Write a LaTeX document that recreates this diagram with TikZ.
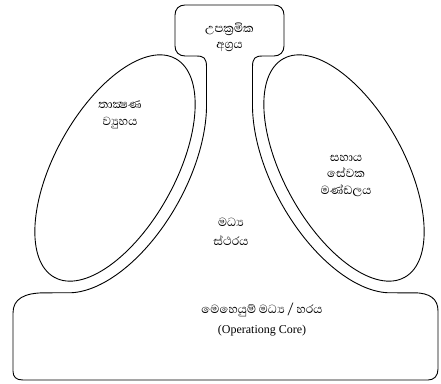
\documentclass[tikz,border=0pt]{standalone}
\usepackage{fontspec}
\setmainfont{Liberation Serif}
\newfontfamily\sinfont[Script=Sinhala]{Abhaya Libre}
\tikzset{
  shapeline/.style={draw=black, line width=0.9pt, line join=round},
  sintext/.style={font=\sinfont\fontsize{15}{16}\selectfont, align=center, inner sep=0pt},
  coretext/.style={align=center, inner sep=0pt, font=\fontsize{12}{14}\selectfont}
}
\begin{document}
\begin{tikzpicture}[x=1pt,y=1pt]
\fill[white] (0,0) rectangle (441,383);
\useasboundingbox (0,0) rectangle (441,383);
% outline: operating core + middle line + strategic apex
\draw[shapeline] (206.5,316)
  -- plot[domain=-43.5:-163.8, samples=90]
     ({115 + 137*cos(\x)*cos(61) - 72*sin(\x)*sin(61)},
      {215 + 137*cos(\x)*sin(61) + 72*sin(\x)*cos(61)})
  -- (45,90.2) .. controls (24,90.2) and (13,84) .. (13,70)
  -- (13,12) .. controls (13,6) and (16,3) .. (23,3)
  -- (428,3) .. controls (434,3) and (438,7) .. (438,14)
  -- (438,72) .. controls (438,84) and (430,90.2) .. (414,90.2)
  -- plot[domain=-163.8:-43.5, samples=90]
     ({344 - 137*cos(\x)*cos(61) + 72*sin(\x)*sin(61)},
      {215 + 137*cos(\x)*sin(61) + 72*sin(\x)*cos(61)})
  -- (252.5,316) .. controls (252.5,325) and (255,327) .. (263,327)
  -- (274,327) .. controls (280,327) and (284,331) .. (284,337)
  -- (284,368) .. controls (284,374) and (280,378) .. (274,378)
  -- (185,378) .. controls (179,378) and (175,374) .. (175,368)
  -- (175,337) .. controls (175,331) and (179,327) .. (185,327)
  -- (196,327) .. controls (204,327) and (206.5,325) .. (206.5,316) -- cycle;
% technostructure and support staff ellipses
\draw[shapeline, rotate around={61:(115,215)}] (115,215) ellipse[x radius=125, y radius=60];
\draw[shapeline, rotate around={-61:(344,215)}] (344,215) ellipse[x radius=125, y radius=60];
% labels
\node[sintext] (apex) at (229.5,346) {උපක්^^^^200dරමික\\අග්^^^^200dරය};
\node[sintext, font=\sinfont\fontsize{15}{17}\selectfont] (techno) at (120,268) {තාක්^^^^200dෂණ\\ව්^^^^200dයුහය};
\node[sintext, font=\sinfont\fontsize{15}{16.5}\selectfont] (support) at (346,207) {සහාය\\සේවක\\මණ්ඩලය};
\node[sintext, font=\sinfont\fontsize{15}{19}\selectfont] (middle) at (231,151) {මධ්^^^^200dය\\ස්ථරය};
\node[sintext] (coresi) at (262,73) {මෙහෙයුම් මධ්^^^^200dය / හරය};
\node[coretext] (coreen) at (262,52) {(Operationg Core)};
\end{tikzpicture}
\end{document}
